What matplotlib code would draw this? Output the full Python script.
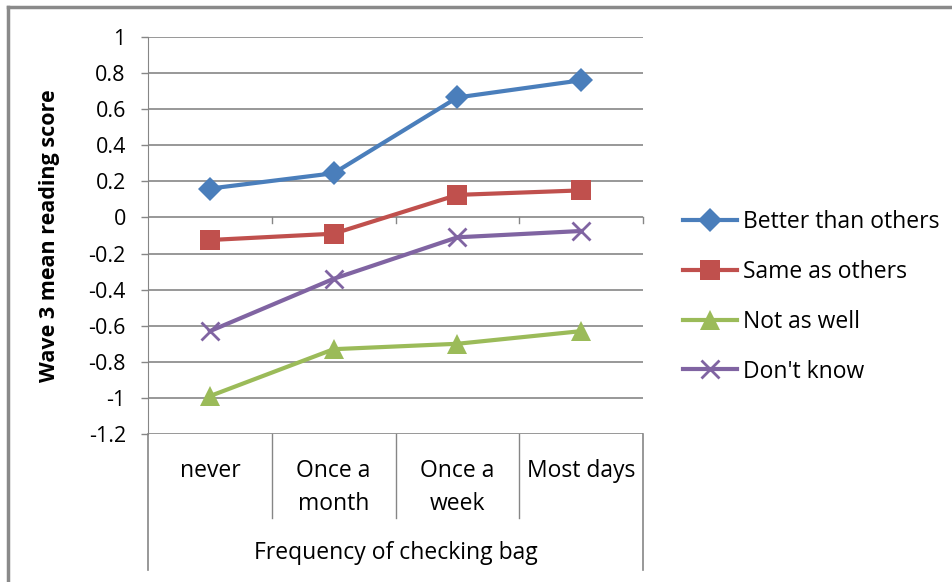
import numpy as np
import matplotlib.pyplot as plt
from matplotlib.lines import Line2D
import matplotlib.transforms as mtransforms

plt.rcParams['font.family'] = ['Open Sans', 'DejaVu Sans']

categories = ["never", "Once a\nmonth", "Once a\nweek", "Most days"]
better = [0.16, 0.245, 0.665, 0.76]
same = [-0.125, -0.09, 0.125, 0.15]
not_well = [-0.99, -0.73, -0.70, -0.63]
dont_know = [-0.63, -0.34, -0.11, -0.075]

series = [
    ("Better than others", better, '#4a7ebb', 'D', 12),
    ("Same as others", same, '#c0504d', 's', 14),
    ("Not as well", not_well, '#9bbb59', '^', 14),
    ("Don't know", dont_know, '#8064a2', 'x', 13),
]

grid_c = '#868686'
fs = 15.5
fs_big = 16.5

fig = plt.figure(figsize=(9.52, 5.82), dpi=100)
ax = fig.add_axes([148/952, 1-434/582, (643-148)/952, (434-37)/582])

x = np.arange(len(categories))
for name, vals, col, mk, ms in series:
    ax.plot(x, vals, color=col, lw=3, marker=mk, ms=ms, mew=2 if mk == 'x' else 0,
            mec=col, mfc=col, label=name, clip_on=False, zorder=3)

ax.set_xlim(-0.5, 3.5)
ax.set_ylim(-1.2, 1)
yt = np.round(np.arange(-1.2, 1.01, 0.2), 1)
ax.set_yticks(yt)
ax.set_yticklabels(['0' if v == 0 else f'{v:g}' for v in yt], fontsize=fs)
ax.yaxis.grid(True, color=grid_c, lw=1.2)
ax.set_axisbelow(True)
ax.tick_params(axis='y', length=5, color=grid_c, pad=11, width=1)
ax.set_xticks([])
for s in ['top', 'right', 'bottom']:
    ax.spines[s].set_visible(False)
ax.spines['left'].set_color(grid_c)

# category axis ticks at zero line
for b in [0.5, 1.5, 2.5, 3.5]:
    ax.plot([b, b], [0, -0.03], color=grid_c, lw=1, clip_on=False)

# multi-level category box below plot
tr = mtransforms.blended_transform_factory(ax.transData, ax.transAxes)
for b in [0.5, 1.5, 2.5]:
    ax.plot([b, b], [0, -0.212], color=grid_c, lw=1, transform=tr, clip_on=False)
for b in [-0.5, 3.5]:
    ax.plot([b, b], [0, -0.343], color=grid_c, lw=1.2, transform=tr, clip_on=False)

for i, c in enumerate(categories):
    ax.text(i, -0.063, c, transform=tr, ha='center', va='top', fontsize=fs_big,
            linespacing=1.48)
ax.text(1.5, -0.2997, "Frequency of checking bag", transform=tr, ha='center',
        va='center', fontsize=fs_big)

ax.set_ylabel("Wave 3 mean reading score", fontsize=fs, fontweight='bold')
ax.yaxis.set_label_coords((60-148)/495, 0.5)

ax.legend(loc='center left', bbox_to_anchor=(683/952, 1-297/582),
          bbox_transform=fig.transFigure, frameon=False, fontsize=fs_big,
          handlelength=2.36, handletextpad=0.26, labelspacing=1.12,
          borderpad=0, borderaxespad=0)

# chart frame
fig.add_artist(Line2D([8/952, 8/952], [0, 1-7/582], color='#8a8a8a', lw=2.5))
fig.add_artist(Line2D([8/952, 1], [1-7/582, 1-7/582], color='#8a8a8a', lw=2.5))

fig.savefig('out.png', dpi=100)
